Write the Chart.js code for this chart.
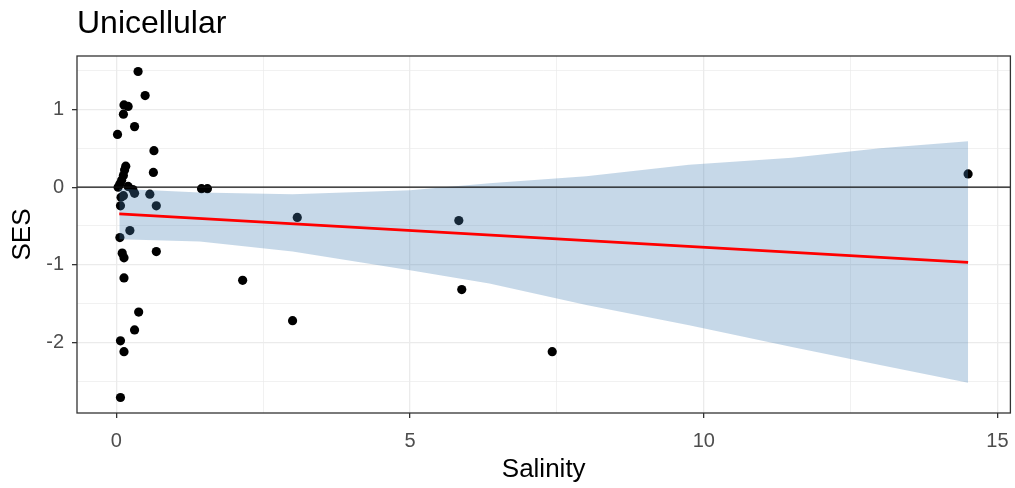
<!DOCTYPE html>
<html lang="en">
<head>
  <meta charset="UTF-8">
  <title>Unicellular - SES vs Salinity</title>
  <script src="https://cdn.jsdelivr.net/npm/chart.js"></script>
  <style>
    body {
      margin: 0;
      padding: 0;
      background: #fff;
    }

    .chart-wrapper {
      width: 1015px;
      height: 488px;
    }
  </style>
</head>
<body>
  <div class="chart-wrapper"><canvas id="sesChart"></canvas></div>

  <script>
    // Observed samples
    const salinity = [
      0.37, 0.49, 0.13, 0.20, 0.12, 0.31, 0.02, 0.64, 0.16, 0.63,
      0.14, 0.12, 0.09, 0.06, 0.03, 0.20, 0.28, 0.31, 0.12, 0.08,
      0.07, 0.57, 0.68, 0.23, 0.06, 0.68, 0.10, 0.13, 0.13, 0.38,
      0.31, 0.07, 0.13, 0.07, 1.45, 1.55, 2.15, 3.00, 3.08, 5.83,
      5.88, 7.42, 14.5
    ];
    const ses = [
      1.49, 1.18, 1.06, 1.04, 0.94, 0.78, 0.68, 0.47, 0.27, 0.19,
      0.22, 0.15, 0.09, 0.04, 0.00, 0.01, -0.03, -0.08, -0.11, -0.13,
      -0.24, -0.09, -0.24, -0.56, -0.65, -0.83, -0.85, -0.91, -1.17, -1.61,
      -1.84, -1.98, -2.12, -2.71, -0.02, -0.02, -1.20, -1.72, -0.39, -0.43,
      -1.32, -2.12, 0.17
    ];

    // Linear fit and its confidence band
    const fitSalinity = [0.05, 14.5];
    const fitSes = [-0.345, -0.97];
    const bandSalinity = [0.05, 1.42, 3, 5, 6.35, 8, 9.75, 11.5, 13, 14.5];
    const bandUpper = [-0.02, -0.07, -0.09, -0.04, 0.05, 0.14, 0.29, 0.38, 0.50, 0.59];
    const bandLower = [-0.67, -0.70, -0.83, -1.07, -1.24, -1.52, -1.78, -2.06, -2.29, -2.52];

    // Axes
    const xMin = -0.67, xMax = 15.22;
    const yMin = -2.91, yMax = 1.69;
    const xMajor = [0, 5, 10, 15];
    const yMajor = [-2, -1, 0, 1];
    const zeroLevel = 0;

    const fontFamily = '"Liberation Sans", Arial, sans-serif';
    const isMajor = (list, v) => list.some(m => Math.abs(m - v) < 1e-6);
    const toXY = (xs, ys) => xs.map((x, i) => ({ x: x, y: ys[i] }));

    // full box around the panel
    const panelBorder = {
      id: 'panelBorder',
      afterDatasetsDraw(chart) {
        const { ctx, chartArea: a } = chart;
        ctx.save();
        ctx.strokeStyle = '#333333';
        ctx.lineWidth = 1.3;
        ctx.strokeRect(a.left, a.top, a.right - a.left, a.bottom - a.top);
        ctx.restore();
      }
    };

    const ctx = document.getElementById('sesChart').getContext('2d');
    new Chart(ctx, {
      type: 'scatter',
      data: {
        datasets: [
          {
            label: 'samples',
            data: toXY(salinity, ses),
            backgroundColor: '#000000',
            borderWidth: 0,
            pointRadius: 4.6,
            order: 4
          },
          {
            label: 'band lower',
            data: toXY(bandSalinity, bandLower),
            showLine: true,
            borderWidth: 0,
            borderColor: 'rgba(0,0,0,0)',
            pointRadius: 0,
            fill: false,
            order: 3
          },
          {
            label: 'band upper',
            data: toXY(bandSalinity, bandUpper),
            showLine: true,
            borderWidth: 0,
            borderColor: 'rgba(0,0,0,0)',
            backgroundColor: 'rgba(70,130,180,0.31)',
            pointRadius: 0,
            fill: '-1',
            order: 3
          },
          {
            label: 'zero',
            data: toXY([xMin, xMax], [zeroLevel, zeroLevel]),
            showLine: true,
            borderColor: '#111111',
            borderWidth: 1.4,
            pointRadius: 0,
            order: 1
          },
          {
            label: 'fit',
            data: toXY(fitSalinity, fitSes),
            showLine: true,
            borderColor: '#ff0000',
            borderWidth: 2.7,
            pointRadius: 0,
            order: 0
          }
        ]
      },
      options: {
        responsive: true,
        maintainAspectRatio: false,
        animation: false,
        layout: { padding: { left: 0, right: 3, top: 0, bottom: 0 } },
        scales: {
          x: {
            type: 'linear',
            min: xMin,
            max: xMax,
            border: { display: false },
            grid: {
              color: '#ebebeb',
              lineWidth: c => isMajor(xMajor, c.tick.value) ? 1.3 : 0.7,
              tickLength: 5,
              tickWidth: 1.3,
              tickColor: c => isMajor(xMajor, c.tick.value) ? '#333333' : 'rgba(0,0,0,0)'
            },
            ticks: {
              stepSize: 2.5,
              includeBounds: false,
              autoSkip: false,
              maxRotation: 0,
              padding: 11,
              color: '#4d4d4d',
              font: { family: fontFamily, size: 20 },
              callback: v => isMajor(xMajor, v) ? String(v) : ''
            },
            title: {
              display: true,
              text: 'Salinity',
              color: '#000000',
              font: { family: fontFamily, size: 26 },
              padding: { top: 0, bottom: 3 }
            },
            afterFit: s => {
              s.height = 75;
              s.paddingLeft = 0;
              s.paddingRight = 0;
            }
          },
          y: {
            type: 'linear',
            min: yMin,
            max: yMax,
            border: { display: false },
            grid: {
              color: '#ebebeb',
              lineWidth: c => isMajor(yMajor, c.tick.value) ? 1.3 : 0.7,
              tickLength: 5,
              tickWidth: 1.3,
              tickColor: c => isMajor(yMajor, c.tick.value) ? '#333333' : 'rgba(0,0,0,0)'
            },
            ticks: {
              stepSize: 0.5,
              includeBounds: false,
              autoSkip: false,
              padding: 8,
              color: '#4d4d4d',
              font: { family: fontFamily, size: 20 },
              callback: v => isMajor(yMajor, v) ? String(v) : ''
            },
            title: {
              display: true,
              text: 'SES',
              color: '#000000',
              font: { family: fontFamily, size: 26 },
              padding: { top: 7, bottom: 0 }
            },
            afterFit: s => { s.width = 77; }
          }
        },
        plugins: {
          legend: { display: false },
          tooltip: { enabled: false },
          title: {
            display: true,
            text: 'Unicellular',
            align: 'start',
            fullSize: false,
            color: '#000000',
            font: { family: fontFamily, size: 32, weight: 'normal' },
            padding: { top: 5, bottom: 12.6 }
          }
        }
      },
      plugins: [panelBorder]
    });
  </script>
</body>
</html>
